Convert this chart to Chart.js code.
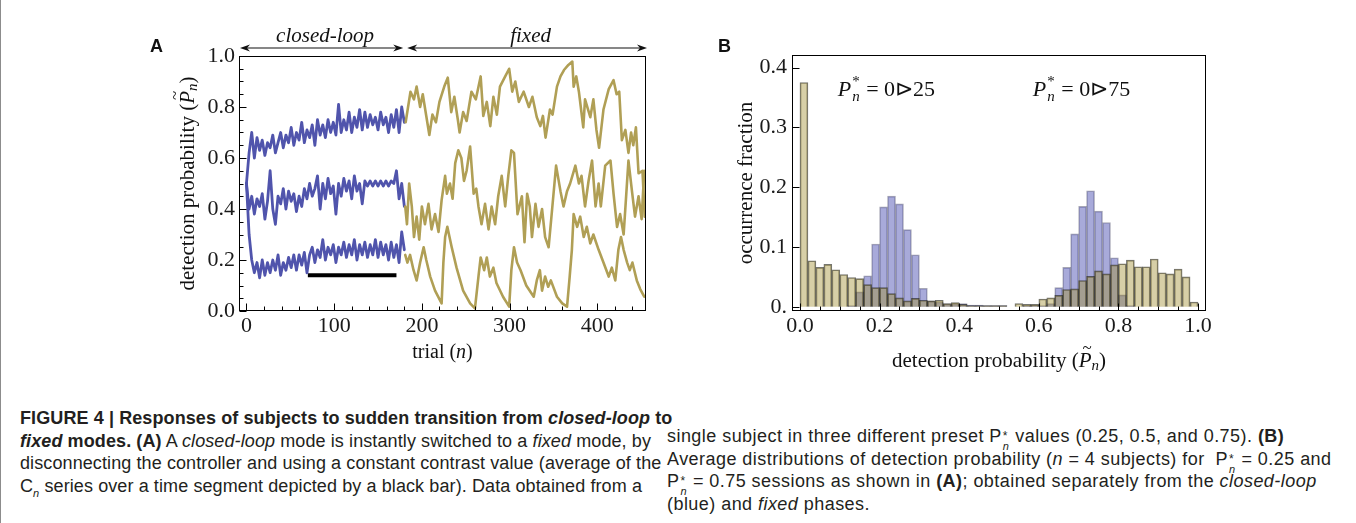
<!DOCTYPE html>
<html>
<head>
<meta charset="utf-8">
<title>Figure 4</title>
<script src="https://cdn.jsdelivr.net/npm/chart.js@4.4.1/dist/chart.umd.min.js"></script>
<style>
  html, body { margin: 0; padding: 0; background: #fff; }
  body { position: relative; width: 1356px; height: 523px; overflow: hidden; }
  #edge { position: absolute; left: 0; top: 0; width: 1px; height: 523px; background: #8c8c8c; }
  .panel { position: absolute; top: 20px; }
  #panelA { left: 140px; }
  #panelB { left: 700px; }
  .caption { position: absolute; font-family: "Liberation Sans Narrow", "Liberation Sans", Arial, sans-serif;
             font-size: 18px; line-height: 22.5px; color: #231f20; white-space: nowrap; }
  #capLeft { left: 20px; top: 407px; letter-spacing: 0.1px; }
  #capRight { left: 667px; top: 425px; letter-spacing: 0.45px; }
  .ss { position: relative; display: inline-block; width: 8px; height: 1px; }
  .ss .s1 { position: absolute; left: 1px; top: -16px; font-size: 12px; }
  .ss .s2 { position: absolute; left: 1px; top: -6px; font-size: 11px; font-style: italic; }
  .sub { font-size: 11px; font-style: italic; position: relative; top: 5px; }
</style>
</head>
<body>
<div id="edge"></div>
<div class="panel" id="panelA"><canvas id="chartA" width="520" height="360"></canvas></div>
<div class="panel" id="panelB"><canvas id="chartB" width="520" height="360"></canvas></div>

<div class="caption" id="capLeft">
<b>FIGURE 4 | Responses of subjects to sudden transition from <i>closed-loop</i> to</b><br>
<b><i>fixed</i> modes. (A)</b> A <i>closed-loop</i> mode is instantly switched to a <i>fixed</i> mode, by<br>
disconnecting the controller and using a constant contrast value (average of the<br>
C<span class="sub">n</span> series over a time segment depicted by a black bar). Data obtained from a
</div>
<div class="caption" id="capRight">
single subject in three different preset P<span class="ss"><span class="s1">*</span><span class="s2">n</span></span> values (0.25, 0.5, and 0.75). <b>(B)</b><br>
Average distributions of detection probability (<i>n</i> = 4 subjects) for &nbsp;P<span class="ss"><span class="s1">*</span><span class="s2">n</span></span> = 0.25 and<br>
P<span class="ss"><span class="s1">*</span><span class="s2">n</span></span> = 0.75 sessions as shown in <b>(A)</b>; obtained separately from the <i>closed-loop</i><br>
(blue) and <i>fixed</i> phases.
</div>

<script>
// ---- panel A: detection probability per trial ----
const closedTrials = [0, 3, 6, 9, 12, 15, 18, 21, 24, 27, 30, 33, 36, 39, 42, 45, 48, 51, 54, 57,
  60, 63, 66, 69, 72, 75, 78, 81, 84, 87, 90, 93, 96, 99, 102, 105, 108, 111, 114, 117,
  120, 123, 126, 129, 132, 135, 138, 141, 144, 147, 150, 153, 156, 159, 162, 165, 168, 171, 174, 177, 180];

// closed-loop, preset 0.75 / 0.5 / 0.25
const closedHigh = [0.50, 0.62, 0.70, 0.60, 0.68, 0.63, 0.67, 0.61, 0.66, 0.64,
  0.69, 0.62, 0.66, 0.70, 0.64, 0.69, 0.66, 0.72, 0.65, 0.70,
  0.67, 0.74, 0.66, 0.71, 0.68, 0.73, 0.65, 0.75, 0.69, 0.73,
  0.68, 0.75, 0.70, 0.74, 0.69, 0.81, 0.70, 0.75, 0.71, 0.78,
  0.70, 0.76, 0.72, 0.79, 0.71, 0.78, 0.72, 0.77, 0.73, 0.76,
  0.71, 0.78, 0.73, 0.76, 0.70, 0.77, 0.72, 0.79, 0.70, 0.80, 0.74];
const closedMid = [0.50, 0.40, 0.45, 0.38, 0.44, 0.41, 0.46, 0.36, 0.43, 0.55,
  0.40, 0.34, 0.45, 0.42, 0.48, 0.40, 0.47, 0.43, 0.46, 0.39,
  0.45, 0.41, 0.48, 0.44, 0.50, 0.45, 0.48, 0.53, 0.40, 0.50,
  0.44, 0.52, 0.46, 0.49, 0.38, 0.50, 0.45, 0.52, 0.47, 0.51,
  0.44, 0.53, 0.47, 0.50, 0.42, 0.51, 0.49, 0.51, 0.49, 0.51,
  0.49, 0.51, 0.49, 0.51, 0.49, 0.51, 0.50, 0.55, 0.44, 0.50, 0.41];
const closedLow = [0.50, 0.30, 0.20, 0.15, 0.19, 0.13, 0.20, 0.14, 0.19, 0.15,
  0.20, 0.16, 0.22, 0.14, 0.19, 0.16, 0.21, 0.17, 0.22, 0.16,
  0.22, 0.18, 0.23, 0.15, 0.22, 0.25, 0.19, 0.24, 0.21, 0.28,
  0.20, 0.25, 0.22, 0.26, 0.19, 0.25, 0.22, 0.27, 0.21, 0.26,
  0.22, 0.28, 0.20, 0.26, 0.22, 0.27, 0.21, 0.26, 0.22, 0.28,
  0.21, 0.27, 0.22, 0.26, 0.20, 0.27, 0.21, 0.26, 0.19, 0.31, 0.24];

// fixed mode, [trial, probability]
const fixedHigh = [[181.5, 0.74], [187, 0.86], [191, 0.83], [194, 0.88], [198, 0.80], [201, 0.85], [205, 0.765],
  [208.5, 0.69], [212, 0.77], [216, 0.74], [220, 0.82], [225.5, 0.88], [229.5, 0.915], [233.5, 0.78], [237, 0.84],
  [241, 0.75], [243, 0.70], [247, 0.78], [251, 0.745], [256.5, 0.86], [261.5, 0.83], [267, 0.92], [270, 0.765],
  [274, 0.82], [278, 0.725], [281.5, 0.84], [285.5, 0.77], [289, 0.88], [295, 0.92], [299.5, 0.95], [303, 0.86],
  [306.5, 0.90], [310.5, 0.82], [316, 0.86], [322, 0.80], [326, 0.84], [331, 0.76], [335, 0.725], [338, 0.765],
  [341, 0.68], [346, 0.79], [349, 0.77], [354, 0.88], [358, 0.92], [362, 0.945], [367, 0.965], [371.5, 0.978],
  [373, 0.88], [376, 0.92], [379, 0.86], [384, 0.72], [386, 0.83], [392, 0.76], [395.5, 0.83], [399, 0.71],
  [402, 0.64], [407, 0.79], [413, 0.87], [418.5, 0.905], [422, 0.85], [425, 0.86], [428, 0.67], [432, 0.71],
  [435.5, 0.62], [438.5, 0.70], [441, 0.65], [444, 0.72], [447, 0.54], [451.5, 0.55], [454, 0.37]];
const fixedMid = [[181, 0.41], [183, 0.34], [185.5, 0.50], [188.5, 0.41], [191, 0.29], [194, 0.37], [197, 0.28],
  [200, 0.41], [203.5, 0.34], [207.5, 0.42], [211, 0.32], [215, 0.38], [219, 0.31], [222.5, 0.435], [226.5, 0.53],
  [228.5, 0.46], [232, 0.50], [235, 0.44], [238, 0.58], [241.5, 0.63], [245, 0.60], [248, 0.51], [251, 0.55],
  [255, 0.645], [259, 0.46], [262, 0.48], [264.5, 0.41], [268, 0.34], [272, 0.42], [276, 0.32], [279.5, 0.41],
  [283.5, 0.34], [287, 0.45], [291, 0.53], [295, 0.41], [298.5, 0.53], [302, 0.63], [305, 0.62], [309, 0.38],
  [314, 0.45], [317, 0.27], [320, 0.46], [323, 0.41], [325.5, 0.29], [329.5, 0.42], [333, 0.33], [337, 0.40],
  [340.5, 0.29], [344.5, 0.25], [348.5, 0.40], [353, 0.57], [358, 0.47], [361.5, 0.41], [365.5, 0.47], [369, 0.50],
  [375, 0.57], [379, 0.50], [382, 0.53], [386, 0.41], [390, 0.51], [394, 0.59], [398, 0.41], [401.5, 0.50],
  [404, 0.41], [409, 0.57], [415, 0.59], [418.5, 0.46], [422.5, 0.33], [426, 0.38], [430, 0.30], [435.5, 0.59],
  [439.5, 0.47], [443, 0.37], [447, 0.45], [450.5, 0.36], [453.5, 0.55]];
const fixedLow = [[181, 0.22], [183.5, 0.19], [186.5, 0.22], [190.5, 0.16], [194, 0.12], [198, 0.19], [202, 0.25],
  [205, 0.20], [209.5, 0.135], [215, 0.08], [222.5, 0.03], [224.5, 0.19], [226.5, 0.29], [229, 0.33], [234, 0.25],
  [239.5, 0.17], [247, 0.08], [255, 0.03], [260.5, 0.01], [264.5, 0.135], [267, 0.21], [271, 0.16], [274, 0.21],
  [277.5, 0.135], [281.5, 0.17], [285, 0.11], [292.5, 0.056], [299.5, 0.017], [302, 0.16], [305, 0.25],
  [308.5, 0.19], [312.5, 0.16], [319, 0.10], [327.5, 0.056], [331, 0.12], [334.5, 0.16], [337, 0.08],
  [340.5, 0.135], [344, 0.095], [347, 0.12], [354, 0.056], [360, 0.03], [365.5, 0.017], [368.5, 0.135],
  [371, 0.24], [373, 0.38], [377, 0.33], [380.5, 0.37], [384.5, 0.29], [388, 0.33], [392, 0.265], [395.5, 0.30],
  [401.5, 0.24], [407, 0.19], [413, 0.135], [416.5, 0.17], [420.5, 0.12], [424, 0.24], [427, 0.29], [430, 0.24],
  [434, 0.19], [437, 0.16], [440, 0.19], [445, 0.12], [449, 0.085], [453.5, 0.056]];

// black bar: segment used for the constant contrast
const contrastSegment = [70, 171];
const contrastLevel = 0.14;
const phaseSwitch = 181;

const trialTicks = [0, 100, 200, 300, 400];
const probTicksA = [0.0, 0.2, 0.4, 0.6, 0.8, 1.0];

// ---- panel B: histograms ----
const binCenters = [0.01, 0.03, 0.05, 0.07, 0.09, 0.11, 0.13, 0.15, 0.17, 0.19,
  0.21, 0.23, 0.25, 0.27, 0.29, 0.31, 0.33, 0.35, 0.37, 0.39,
  0.41, 0.43, 0.45, 0.47, 0.49, 0.51, 0.53, 0.55, 0.57, 0.59,
  0.61, 0.63, 0.65, 0.67, 0.69, 0.71, 0.73, 0.75, 0.77, 0.79,
  0.81, 0.83, 0.85, 0.87, 0.89, 0.91, 0.93, 0.95, 0.97, 0.99];
const fixedFraction = [0.375, 0.077, 0.066, 0.071, 0.062, 0.054, 0.049, 0.047, 0.037, 0.032,
  0.032, 0.022, 0.015, 0.010, 0.014, 0.011, 0.010, 0.011, 0.0055, 0.007,
  0.004, 0.002, 0.002, 0.002, 0.002, 0.002, null, 0.0055, 0.004, 0.004,
  0.013, 0.015, 0.019, 0.029, 0.030, 0.044, 0.051, 0.060, 0.055, 0.070,
  0.072, 0.078, 0.067, 0.067, 0.080, 0.057, 0.055, 0.063, 0.050, 0.008];
const closedFraction = [null, null, null, null, null, null, 0.002, 0.025, 0.052, 0.105,
  0.167, 0.185, 0.172, 0.129, 0.087, 0.031, 0.010, 0.008, 0.005, 0.005,
  0.0055, 0.003, 0.003, 0.002, 0.002, 0.002, null, null, 0.002, 0.003,
  0.002, 0.0055, 0.032, 0.066, 0.122, 0.168, 0.194, 0.160, 0.141, 0.082,
  0.020, 0.002, null, null, null, null, null, null, null, null];

const probTicksB = [0.0, 0.2, 0.4, 0.6, 0.8, 1.0];
const fractionTicks = [0.0, 0.1, 0.2, 0.3, 0.4];
const presetLabels = [{x: 0.095, y: 0.362, text: ' = 0\u22B325'}, {x: 0.585, y: 0.362, text: ' = 0\u22B375'}];

const SERIF = '"Liberation Serif", "Times New Roman", serif';
const BLUE = '#5054ac';
const GOLD = '#b09f55';

Chart.defaults.font.family = SERIF;
Chart.defaults.color = '#1a1a1a';

function drawRich(ctx, parts, x, y, align) {
  let total = 0;
  parts.forEach(p => {
    ctx.font = p.font;
    p.w = ctx.measureText(p.text).width;
    if (!p.over && !p.hold) total += p.w;
  });
  let cx = align === 'center' ? x - total / 2 : x;
  let prev = null;
  parts.forEach(p => {
    ctx.font = p.font;
    if (p.over && prev) {
      ctx.fillText(p.text, prev.x + prev.w / 2 - p.w / 2 + (p.dx || 0), y + (p.dy || 0));
      return;
    }
    ctx.fillText(p.text, cx + (p.dx || 0), y + (p.dy || 0));
    p.x = cx;
    prev = p;
    if (!p.hold) cx += p.w;
  });
}

function probTitle(size) {
  return [
    {text: 'detection probability (', font: size + 'px ' + SERIF},
    {text: 'P', font: 'italic ' + size + 'px ' + SERIF},
    {text: '~', font: (size - 4) + 'px ' + SERIF, over: true, dy: -12, dx: 2},
    {text: 'n', font: 'italic ' + (size - 6) + 'px ' + SERIF, dy: 5},
    {text: ')', font: size + 'px ' + SERIF}
  ];
}

// frame on all four sides and inward tick marks
const frameTicks = {
  id: 'frameTicks',
  afterDraw(chart, args, opts) {
    const {ctx, chartArea: a, scales: {x, y}} = chart;
    ctx.save();
    ctx.strokeStyle = '#000';
    ctx.lineWidth = 1;
    const L = Math.round(a.left) + 0.5, R = Math.round(a.right) - 0.5;
    const T = Math.round(a.top) + 0.5, B = Math.round(a.bottom) - 0.5;
    ctx.strokeRect(L, T, R - L, B - T);
    ctx.beginPath();
    for (let v = opts.xFrom; v <= opts.xTo + 1e-9; v += opts.xMinor) {
      const px = Math.round(x.getPixelForValue(v)) + 0.5;
      const major = opts.xMajor.some(m => Math.abs(m - v) < 1e-6);
      ctx.moveTo(px, B);
      ctx.lineTo(px, B - (major ? 7 : 4));
    }
    for (let v = opts.yFrom; v <= opts.yTo + 1e-9; v += opts.yMinor) {
      const py = Math.round(y.getPixelForValue(v)) + 0.5;
      const major = opts.yMajor.some(m => Math.abs(m - v) < 1e-6);
      ctx.moveTo(L, py);
      ctx.lineTo(L + (major ? 7 : 4), py);
    }
    ctx.stroke();
    ctx.restore();
  }
};

function arrowHead(ctx, x, y, dir) {
  ctx.beginPath();
  ctx.moveTo(x, y);
  ctx.lineTo(x + dir * 10, y - 3.5);
  ctx.lineTo(x + dir * 7, y);
  ctx.lineTo(x + dir * 10, y + 3.5);
  ctx.closePath();
  ctx.fill();
}

function doubleArrow(ctx, x1, x2, y) {
  ctx.beginPath();
  ctx.moveTo(x1 + 6, y);
  ctx.lineTo(x2 - 6, y);
  ctx.stroke();
  arrowHead(ctx, x1, y, 1);
  arrowHead(ctx, x2, y, -1);
}

const panelADecor = {
  id: 'panelADecor',
  afterDraw(chart) {
    const {ctx, chartArea: a, scales: {x}} = chart;
    ctx.save();
    ctx.fillStyle = '#111';
    ctx.strokeStyle = '#111';
    ctx.lineWidth = 1.2;
    const xs = x.getPixelForValue(phaseSwitch);
    doubleArrow(ctx, a.left + 1, xs - 2, 28);
    doubleArrow(ctx, xs + 2, a.right + 1, 28);
    ctx.textBaseline = 'middle';
    ctx.textAlign = 'left';
    drawRich(ctx, [{text: 'closed-loop', font: 'italic 21px ' + SERIF}], (a.left + xs) / 2 + 3, 16, 'center');
    drawRich(ctx, [{text: 'fixed', font: 'italic 21px ' + SERIF}], (xs + a.right) / 2 + 5, 16, 'center');
    ctx.font = 'bold 18px "Liberation Sans", Arial, sans-serif';
    ctx.fillText('A', 10, 27);
    // axis titles
    drawRich(ctx, [
      {text: 'trial (', font: '20px ' + SERIF},
      {text: 'n', font: 'italic 20px ' + SERIF},
      {text: ')', font: '20px ' + SERIF}
    ], (a.left + a.right) / 2, 333, 'center');
    ctx.translate(48, (a.top + a.bottom) / 2);
    ctx.rotate(-Math.PI / 2);
    drawRich(ctx, probTitle(21), 0, 0, 'center');
    ctx.restore();
  }
};

const panelBDecor = {
  id: 'panelBDecor',
  afterDraw(chart) {
    const {ctx, chartArea: a, scales: {x, y}} = chart;
    ctx.save();
    ctx.fillStyle = '#111';
    ctx.textBaseline = 'middle';
    ctx.textAlign = 'left';
    ctx.font = 'bold 18px "Liberation Sans", Arial, sans-serif';
    ctx.fillText('B', 18, 27);
    presetLabels.forEach(l => {
      drawRich(ctx, [
        {text: 'P', font: 'italic 22px ' + SERIF},
        {text: '*', font: '15px ' + SERIF, dy: -8, dx: 1, hold: true},
        {text: 'n', font: 'italic 15px ' + SERIF, dy: 7, dx: 1},
        {text: l.text, font: '22px ' + SERIF, dx: 2}
      ], x.getPixelForValue(l.x), y.getPixelForValue(l.y), 'left');
    });
    drawRich(ctx, probTitle(21), (a.left + a.right) / 2, 341, 'center');
    ctx.translate(46, (a.top + a.bottom) / 2);
    ctx.rotate(-Math.PI / 2);
    drawRich(ctx, [{text: 'occurrence fraction', font: '21px ' + SERIF}], 0, 0, 'center');
    ctx.restore();
  }
};

const pts = (xs, ys) => xs.map((v, i) => ({x: v, y: ys[i]}));
const pairs = list => list.map(([t, p]) => ({x: t, y: p}));

function lineSet(data, color, width) {
  return {data, borderColor: color, borderWidth: width, pointRadius: 0, tension: 0,
          borderJoinStyle: 'round', borderCapStyle: 'round', fill: false};
}

new Chart(document.getElementById('chartA'), {
  type: 'line',
  data: {
    datasets: [
      lineSet(pairs(fixedHigh), GOLD, 2.6),
      lineSet(pairs(fixedMid), GOLD, 2.6),
      lineSet(pairs(fixedLow), GOLD, 2.6),
      lineSet(pts(closedTrials, closedHigh), BLUE, 2.8),
      lineSet(pts(closedTrials, closedMid), BLUE, 2.8),
      lineSet(pts(closedTrials, closedLow), BLUE, 2.8),
      {data: contrastSegment.map(t => ({x: t, y: contrastLevel})), borderColor: '#000', borderWidth: 4,
       pointRadius: 0, borderCapStyle: 'butt'}
    ]
  },
  options: {
    responsive: false,
    animation: false,
    layout: {padding: {top: 36, right: 14, left: 0, bottom: 0}},
    plugins: {
      legend: {display: false},
      tooltip: {enabled: false},
      frameTicks: {xFrom: 0, xTo: 440, xMinor: 20, xMajor: trialTicks,
                   yFrom: 0, yTo: 1.0, yMinor: 0.05, yMajor: probTicksA}
    },
    scales: {
      x: {
        type: 'linear', min: -8.5, max: 455.5,
        grid: {display: false, drawTicks: false}, border: {display: false},
        afterBuildTicks: s => { s.ticks = trialTicks.map(v => ({value: v})); },
        afterFit: s => { s.height = 69; },
        ticks: {font: {size: 22}, padding: 2, maxRotation: 0, autoSkip: false, callback: v => String(v)}
      },
      y: {
        min: 0, max: 1.0,
        grid: {display: false, drawTicks: false}, border: {display: false},
        afterBuildTicks: s => { s.ticks = probTicksA.map(v => ({value: v})); },
        afterFit: s => { s.width = 99; },
        ticks: {font: {size: 22}, padding: 4, autoSkip: false, callback: v => v.toFixed(1)}
      }
    }
  },
  plugins: [frameTicks, panelADecor]
});

new Chart(document.getElementById('chartB'), {
  type: 'bar',
  data: {
    datasets: [
      {label: 'fixed', data: pts(binCenters, fixedFraction), order: 1,
       backgroundColor: 'rgba(160,140,45,0.42)', borderColor: 'rgba(25,25,15,0.6)', borderWidth: 1},
      {label: 'closed-loop', data: pts(binCenters, closedFraction), order: 2,
       backgroundColor: 'rgba(82,86,182,0.5)', borderColor: 'rgba(60,60,90,0.45)', borderWidth: 1}
    ]
  },
  options: {
    responsive: false,
    animation: false,
    datasets: {bar: {grouped: false, barPercentage: 1, categoryPercentage: 1}},
    layout: {padding: {top: 35, right: 14, left: 0, bottom: 0}},
    plugins: {
      legend: {display: false},
      tooltip: {enabled: false},
      frameTicks: {xFrom: 0, xTo: 1.0, xMinor: 0.05, xMajor: probTicksB,
                   yFrom: 0, yTo: 0.4, yMinor: 0.1, yMajor: fractionTicks}
    },
    scales: {
      x: {
        type: 'linear', min: -0.02, max: 1.02, offset: false,
        grid: {display: false, drawTicks: false}, border: {display: false},
        afterBuildTicks: s => { s.ticks = probTicksB.map(v => ({value: v})); },
        afterFit: s => { s.height = 69; },
        ticks: {font: {size: 22}, padding: 2, maxRotation: 0, autoSkip: false, callback: v => v.toFixed(1)}
      },
      y: {
        min: -0.007, max: 0.421,
        grid: {display: false, drawTicks: false}, border: {display: false},
        afterBuildTicks: s => { s.ticks = fractionTicks.map(v => ({value: v})); },
        afterFit: s => { s.width = 92; },
        ticks: {font: {size: 22}, padding: 5, autoSkip: false, callback: v => v === 0 ? '0.' : v.toFixed(1)}
      }
    }
  },
  plugins: [frameTicks, panelBDecor]
});
</script>
</body>
</html>
